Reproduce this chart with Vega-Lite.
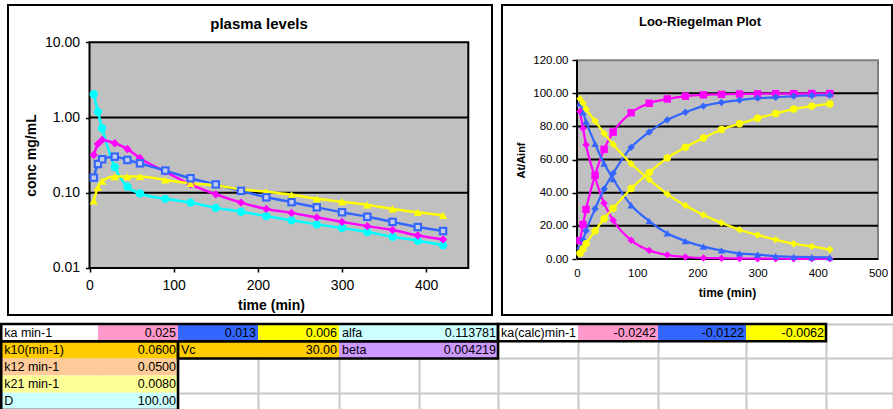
{
  "$schema": "https://vega.github.io/schema/vega-lite/v6.json",
  "padding": {"left": 0, "top": 4, "right": 0, "bottom": 0},
  "background": "white",
  "spacing": 6,
  "resolve": {"scale": {"color": "independent", "shape": "independent"}},
  "config": {
    "font": "Liberation Sans",
    "view": {"stroke": null},
    "axis": {"labelColor": "black", "titleColor": "black", "tickColor": "black", "labelFont": "Liberation Sans", "titleFont": "Liberation Sans"},
    "title": {"color": "black", "font": "Liberation Sans"}
  },
  "datasets": {
    "left": [
      {"t": 5, "IV": 2.04, "A": 0.318, "B": 0.159, "C": 0.078},
      {"t": 10, "IV": 1.19, "A": 0.446, "B": 0.241, "C": 0.118},
      {"t": 15, "IV": 0.72, "A": 0.504, "B": 0.279, "C": 0.143},
      {"t": 30, "IV": 0.22, "A": 0.455, "B": 0.302, "C": 0.164},
      {"t": 45, "IV": 0.12, "A": 0.382, "B": 0.273, "C": 0.164},
      {"t": 60, "IV": 0.098, "A": 0.288, "B": 0.246, "C": 0.164},
      {"t": 90, "IV": 0.083, "A": 0.191, "B": 0.197, "C": 0.148},
      {"t": 120, "IV": 0.074, "A": 0.129, "B": 0.156, "C": 0.133},
      {"t": 150, "IV": 0.063, "A": 0.095, "B": 0.129, "C": 0.126},
      {"t": 180, "IV": 0.056, "A": 0.074, "B": 0.106, "C": 0.111},
      {"t": 210, "IV": 0.049, "A": 0.061, "B": 0.087, "C": 0.103},
      {"t": 240, "IV": 0.043, "A": 0.054, "B": 0.075, "C": 0.094},
      {"t": 270, "IV": 0.038, "A": 0.047, "B": 0.064, "C": 0.083},
      {"t": 300, "IV": 0.034, "A": 0.041, "B": 0.055, "C": 0.076},
      {"t": 330, "IV": 0.030, "A": 0.036, "B": 0.048, "C": 0.069},
      {"t": 360, "IV": 0.026, "A": 0.032, "B": 0.041, "C": 0.061},
      {"t": 390, "IV": 0.023, "A": 0.027, "B": 0.035, "C": 0.055},
      {"t": 420, "IV": 0.020, "A": 0.024, "B": 0.031, "C": 0.050}
    ],
    "right": [
      {"t": 5, "pr": 11.1, "pf": 89.0, "br": 6.5, "bf": 94.0, "yr": 3.5, "yf": 96.8},
      {"t": 10, "pr": 20.8, "pf": 79.0, "br": 11.5, "bf": 88.5, "yr": 6.2, "yf": 94.0},
      {"t": 15, "pr": 29.9, "pf": 69.0, "br": 17.0, "bf": 83.0, "yr": 9.2, "yf": 90.6},
      {"t": 30, "pr": 50.5, "pf": 49.3, "br": 30.3, "bf": 69.6, "yr": 17.0, "yf": 83.3},
      {"t": 45, "pr": 66.2, "pf": 33.7, "br": 42.3, "bf": 57.6, "yr": 24.3, "yf": 75.8},
      {"t": 60, "pr": 76.6, "pf": 23.4, "br": 51.7, "bf": 48.3, "yr": 30.6, "yf": 69.3},
      {"t": 90, "pr": 88.3, "pf": 11.3, "br": 67.4, "bf": 32.4, "yr": 42.6, "yf": 57.5},
      {"t": 120, "pr": 94.0, "pf": 5.2, "br": 76.6, "bf": 22.9, "yr": 52.2, "yf": 48.0},
      {"t": 150, "pr": 96.6, "pf": 2.4, "br": 84.0, "bf": 15.5, "yr": 61.0, "yf": 39.2},
      {"t": 180, "pr": 98.3, "pf": 1.2, "br": 88.6, "bf": 10.8, "yr": 67.5, "yf": 32.3},
      {"t": 210, "pr": 99.1, "pf": 0.6, "br": 92.3, "bf": 7.5, "yr": 73.0, "yf": 26.6},
      {"t": 240, "pr": 99.4, "pf": 0.5, "br": 94.5, "bf": 5.2, "yr": 78.2, "yf": 21.8},
      {"t": 270, "pr": 99.6, "pf": 0.3, "br": 95.9, "bf": 3.4, "yr": 81.6, "yf": 17.7},
      {"t": 300, "pr": 99.7, "pf": 0.2, "br": 97.1, "bf": 2.7, "yr": 85.0, "yf": 14.5},
      {"t": 330, "pr": 99.8, "pf": 0.2, "br": 97.6, "bf": 1.7, "yr": 87.8, "yf": 11.7},
      {"t": 360, "pr": 99.8, "pf": 0.1, "br": 98.3, "bf": 1.3, "yr": 90.5, "yf": 9.2},
      {"t": 390, "pr": 99.9, "pf": 0.1, "br": 98.7, "bf": 1.1, "yr": 92.3, "yf": 7.6},
      {"t": 420, "pr": 99.9, "pf": 0.1, "br": 98.9, "bf": 1.0, "yr": 93.6, "yf": 5.7}
    ],
    "cells": [
      {"r": 0, "r2": 1, "c": 0, "c2": 1, "t": "ka min-1", "k": "l", "f": "white"},
      {"r": 0, "r2": 1, "c": 1, "c2": 2, "t": "0.025", "k": "n", "f": "pink"},
      {"r": 0, "r2": 1, "c": 2, "c2": 3, "t": "0.013", "k": "n", "f": "blue"},
      {"r": 0, "r2": 1, "c": 3, "c2": 4, "t": "0.006", "k": "n", "f": "yellow"},
      {"r": 0, "r2": 1, "c": 4, "c2": 5, "t": "alfa", "k": "l", "f": "lcyan"},
      {"r": 0, "r2": 1, "c": 5, "c2": 6, "t": "0.113781", "k": "n", "f": "lcyan"},
      {"r": 0, "r2": 1, "c": 6, "c2": 7, "t": "ka(calc)min-1", "k": "l", "f": "white"},
      {"r": 0, "r2": 1, "c": 7, "c2": 8, "t": "-0.0242", "k": "n", "f": "pink"},
      {"r": 0, "r2": 1, "c": 8, "c2": 9, "t": "-0.0122", "k": "n", "f": "blue"},
      {"r": 0, "r2": 1, "c": 9, "c2": 10, "t": "-0.0062", "k": "n", "f": "yellow"},
      {"r": 1, "r2": 2, "c": 0, "c2": 1, "t": "k10(min-1)", "k": "l", "f": "orange"},
      {"r": 1, "r2": 2, "c": 1, "c2": 2, "t": "0.0600", "k": "n", "f": "orange"},
      {"r": 1, "r2": 2, "c": 2, "c2": 3, "t": "Vc", "k": "l", "f": "orange"},
      {"r": 1, "r2": 2, "c": 3, "c2": 4, "t": "30.00", "k": "n", "f": "orange"},
      {"r": 1, "r2": 2, "c": 4, "c2": 5, "t": "beta", "k": "l", "f": "purple"},
      {"r": 1, "r2": 2, "c": 5, "c2": 6, "t": "0.004219", "k": "n", "f": "purple"},
      {"r": 2, "r2": 3, "c": 0, "c2": 1, "t": "k12 min-1", "k": "l", "f": "peach"},
      {"r": 2, "r2": 3, "c": 1, "c2": 2, "t": "0.0500", "k": "n", "f": "peach"},
      {"r": 3, "r2": 4, "c": 0, "c2": 1, "t": "k21 min-1", "k": "l", "f": "lyellow"},
      {"r": 3, "r2": 4, "c": 1, "c2": 2, "t": "0.0080", "k": "n", "f": "lyellow"},
      {"r": 4, "r2": 5, "c": 0, "c2": 1, "t": "D", "k": "l", "f": "lcyan"},
      {"r": 4, "r2": 5, "c": 1, "c2": 2, "t": "100.00", "k": "n", "f": "lcyan"}
    ],
    "boxes": [
      {"c": 0, "c2": 6, "r": 0, "r2": 1},
      {"c": 6, "c2": 10, "r": 0, "r2": 1},
      {"c": 2, "c2": 6, "r": 1, "r2": 2},
      {"c": 0, "c2": 2, "r": 1, "r2": 5}
    ]
  },
  "vconcat": [
    {
      "hconcat": [
        {
          "width": 484,
          "height": 310,
          "view": {"stroke": "black", "strokeWidth": 2, "fill": "white"},
          "title": {"text": "plasma levels", "fontSize": 15, "fontWeight": "bold", "anchor": "middle", "frame": "group", "offset": -27, "dx": 9},
          "layer": [
            {
              "data": {"values": [{}]},
              "mark": {"type": "rect", "fill": "#C0C0C0", "stroke": "black", "strokeWidth": 2},
              "encoding": {
                "x": {"datum": 0, "type": "quantitative", "scale": {"domain": [-96.82, 478.15], "nice": false, "zero": false},
                  "axis": {"orient": "bottom", "offset": -47, "values": [0, 100, 200, 300, 400], "domain": false, "grid": false, "ticks": true, "tickSize": 4, "tickWidth": 1.5, "labelFontSize": 14, "labelPadding": 6, "labelFlush": false, "labelOverlap": false, "title": "time (min)", "titleFontSize": 14, "titleFontWeight": "bold", "titlePadding": 6, "titleX": 263}},
                "x2": {"datum": 450},
                "y": {"datum": 0.01, "type": "quantitative", "scale": {"type": "log", "domain": [0.002372, 31.32], "nice": false},
                  "axis": {"orient": "left", "offset": -81.5, "values": [0.01, 0.1, 1, 10], "format": ".2f", "domain": false, "grid": false, "tickSize": 4, "tickWidth": 1.5, "labelFontSize": 14, "labelPadding": 6, "labelFlush": false, "labelOverlap": false, "title": "conc mg/mL", "titleFontSize": 14, "titleFontWeight": "bold", "titlePadding": 6, "titleY": 150}},
                "y2": {"datum": 10}
              }
            },
            {
              "data": {"values": [{"g": 1}, {"g": 0.1}]},
              "mark": {"type": "rule", "color": "black", "strokeWidth": 2},
              "encoding": {
                "x": {"datum": 0, "type": "quantitative", "scale": {"domain": [-96.82, 478.15], "nice": false, "zero": false},
                  "axis": {"orient": "bottom", "offset": -47, "values": [0, 100, 200, 300, 400], "domain": false, "grid": false, "ticks": true, "tickSize": 4, "tickWidth": 1.5, "labelFontSize": 14, "labelPadding": 6, "labelFlush": false, "labelOverlap": false, "title": "time (min)", "titleFontSize": 14, "titleFontWeight": "bold", "titlePadding": 6, "titleX": 263}},
                "x2": {"datum": 450},
                "y": {"field": "g", "type": "quantitative", "scale": {"type": "log", "domain": [0.002372, 31.32], "nice": false},
                  "axis": {"orient": "left", "offset": -81.5, "values": [0.01, 0.1, 1, 10], "format": ".2f", "domain": false, "grid": false, "tickSize": 4, "tickWidth": 1.5, "labelFontSize": 14, "labelPadding": 6, "labelFlush": false, "labelOverlap": false, "title": "conc mg/mL", "titleFontSize": 14, "titleFontWeight": "bold", "titlePadding": 6, "titleY": 150}}
              }
            },
            {
              "data": {"name": "left"},
              "transform": [{"fold": ["IV", "A", "B", "C"], "as": ["s", "v"]}],
              "mark": {"type": "line", "strokeWidth": 2.5, "interpolate": "monotone"},
              "encoding": {
                "x": {"field": "t", "type": "quantitative", "scale": {"domain": [-96.82, 478.15], "nice": false, "zero": false},
                  "axis": {"orient": "bottom", "offset": -47, "values": [0, 100, 200, 300, 400], "domain": false, "grid": false, "ticks": true, "tickSize": 4, "tickWidth": 1.5, "labelFontSize": 14, "labelPadding": 6, "labelFlush": false, "labelOverlap": false, "title": "time (min)", "titleFontSize": 14, "titleFontWeight": "bold", "titlePadding": 6, "titleX": 263}},
                "y": {"field": "v", "type": "quantitative", "scale": {"type": "log", "domain": [0.002372, 31.32], "nice": false},
                  "axis": {"orient": "left", "offset": -81.5, "values": [0.01, 0.1, 1, 10], "format": ".2f", "domain": false, "grid": false, "tickSize": 4, "tickWidth": 1.5, "labelFontSize": 14, "labelPadding": 6, "labelFlush": false, "labelOverlap": false, "title": "conc mg/mL", "titleFontSize": 14, "titleFontWeight": "bold", "titlePadding": 6, "titleY": 150}},
                "color": {"field": "s", "type": "nominal", "scale": {"domain": ["IV", "A", "B", "C"], "range": ["#00FFFF", "#FF00FF", "#3366FF", "#FFFF00"]}, "legend": null}
              }
            },
            {
              "data": {"name": "left"},
              "transform": [{"fold": ["IV", "A", "B", "C"], "as": ["s", "v"]}, {"filter": "datum.s != 'B'"}],
              "mark": {"type": "point", "filled": true, "opacity": 1, "size": 70},
              "encoding": {
                "x": {"field": "t", "type": "quantitative", "scale": {"domain": [-96.82, 478.15], "nice": false, "zero": false},
                  "axis": {"orient": "bottom", "offset": -47, "values": [0, 100, 200, 300, 400], "domain": false, "grid": false, "ticks": true, "tickSize": 4, "tickWidth": 1.5, "labelFontSize": 14, "labelPadding": 6, "labelFlush": false, "labelOverlap": false, "title": "time (min)", "titleFontSize": 14, "titleFontWeight": "bold", "titlePadding": 6, "titleX": 263}},
                "y": {"field": "v", "type": "quantitative", "scale": {"type": "log", "domain": [0.002372, 31.32], "nice": false},
                  "axis": {"orient": "left", "offset": -81.5, "values": [0.01, 0.1, 1, 10], "format": ".2f", "domain": false, "grid": false, "tickSize": 4, "tickWidth": 1.5, "labelFontSize": 14, "labelPadding": 6, "labelFlush": false, "labelOverlap": false, "title": "conc mg/mL", "titleFontSize": 14, "titleFontWeight": "bold", "titlePadding": 6, "titleY": 150}},
                "color": {"field": "s", "type": "nominal", "scale": {"domain": ["IV", "A", "B", "C"], "range": ["#00FFFF", "#FF00FF", "#3366FF", "#FFFF00"]}, "legend": null},
                "shape": {"field": "s", "type": "nominal", "scale": {"domain": ["IV", "A", "C"], "range": ["circle", "diamond", "triangle-up"]}, "legend": null}
              }
            },
            {
              "data": {"name": "left"},
              "transform": [{"fold": ["B"], "as": ["s", "v"]}],
              "mark": {"type": "point", "shape": "square", "filled": true, "opacity": 1, "size": 72, "color": "#3366FF"},
              "encoding": {
                "x": {"field": "t", "type": "quantitative", "scale": {"domain": [-96.82, 478.15], "nice": false, "zero": false},
                  "axis": {"orient": "bottom", "offset": -47, "values": [0, 100, 200, 300, 400], "domain": false, "grid": false, "ticks": true, "tickSize": 4, "tickWidth": 1.5, "labelFontSize": 14, "labelPadding": 6, "labelFlush": false, "labelOverlap": false, "title": "time (min)", "titleFontSize": 14, "titleFontWeight": "bold", "titlePadding": 6, "titleX": 263}},
                "y": {"field": "v", "type": "quantitative", "scale": {"type": "log", "domain": [0.002372, 31.32], "nice": false},
                  "axis": {"orient": "left", "offset": -81.5, "values": [0.01, 0.1, 1, 10], "format": ".2f", "domain": false, "grid": false, "tickSize": 4, "tickWidth": 1.5, "labelFontSize": 14, "labelPadding": 6, "labelFlush": false, "labelOverlap": false, "title": "conc mg/mL", "titleFontSize": 14, "titleFontWeight": "bold", "titlePadding": 6, "titleY": 150}}
              }
            },
            {
              "data": {"name": "left"},
              "transform": [{"fold": ["B"], "as": ["s", "v"]}],
              "mark": {"type": "point", "shape": "square", "filled": true, "opacity": 1, "size": 18, "color": "#C4CCEE"},
              "encoding": {
                "x": {"field": "t", "type": "quantitative", "scale": {"domain": [-96.82, 478.15], "nice": false, "zero": false},
                  "axis": {"orient": "bottom", "offset": -47, "values": [0, 100, 200, 300, 400], "domain": false, "grid": false, "ticks": true, "tickSize": 4, "tickWidth": 1.5, "labelFontSize": 14, "labelPadding": 6, "labelFlush": false, "labelOverlap": false, "title": "time (min)", "titleFontSize": 14, "titleFontWeight": "bold", "titlePadding": 6, "titleX": 263}},
                "y": {"field": "v", "type": "quantitative", "scale": {"type": "log", "domain": [0.002372, 31.32], "nice": false},
                  "axis": {"orient": "left", "offset": -81.5, "values": [0.01, 0.1, 1, 10], "format": ".2f", "domain": false, "grid": false, "tickSize": 4, "tickWidth": 1.5, "labelFontSize": 14, "labelPadding": 6, "labelFlush": false, "labelOverlap": false, "title": "conc mg/mL", "titleFontSize": 14, "titleFontWeight": "bold", "titlePadding": 6, "titleY": 150}}
              }
            }
          ]
        },
        {
          "width": 390,
          "height": 310,
          "view": {"stroke": "black", "strokeWidth": 2, "fill": "white"},
          "title": {"text": "Loo-Riegelman Plot", "fontSize": 13, "fontWeight": "bold", "anchor": "middle", "frame": "group", "offset": -24, "dx": 3},
          "layer": [
            {
              "data": {"values": [{}]},
              "mark": {"type": "rect", "fill": "#C0C0C0", "stroke": "#808080", "strokeWidth": 2},
              "encoding": {
                "x": {"datum": 0, "type": "quantitative", "scale": {"domain": [-124.58, 523.26], "nice": false, "zero": false},
                  "axis": {"orient": "bottom", "offset": -56, "values": [0, 100, 200, 300, 400, 500], "domain": false, "grid": false, "ticks": false, "tickSize": 0, "labelFontSize": 11.5, "labelPadding": 8, "labelFlush": false, "labelOverlap": false, "title": "time (min)", "titleFontSize": 12, "titleFontWeight": "bold", "titlePadding": 9, "titleX": 225}},
                "x2": {"datum": 500},
                "y": {"datum": 0, "type": "quantitative", "scale": {"domain": [-33.8, 153.32], "nice": false, "zero": false},
                  "axis": {"orient": "left", "offset": -75, "values": [0, 20, 40, 60, 80, 100, 120], "format": ".2f", "domain": false, "grid": false, "tickSize": 5, "tickWidth": 1.5, "labelFontSize": 11.5, "labelPadding": 4, "labelFlush": false, "labelOverlap": false, "title": "At/Ainf", "titleFontSize": 11, "titleFontWeight": "bold", "titlePadding": 6}},
                "y2": {"datum": 120}
              }
            },
            {
              "data": {"values": [{"g": 20}, {"g": 40}, {"g": 60}, {"g": 80}, {"g": 100}, {"g": 0}]},
              "mark": {"type": "rule", "color": "black", "strokeWidth": 2},
              "encoding": {
                "x": {"datum": 0, "type": "quantitative", "scale": {"domain": [-124.58, 523.26], "nice": false, "zero": false},
                  "axis": {"orient": "bottom", "offset": -56, "values": [0, 100, 200, 300, 400, 500], "domain": false, "grid": false, "ticks": false, "tickSize": 0, "labelFontSize": 11.5, "labelPadding": 8, "labelFlush": false, "labelOverlap": false, "title": "time (min)", "titleFontSize": 12, "titleFontWeight": "bold", "titlePadding": 9, "titleX": 225}},
                "x2": {"datum": 500},
                "y": {"field": "g", "type": "quantitative", "scale": {"domain": [-33.8, 153.32], "nice": false, "zero": false},
                  "axis": {"orient": "left", "offset": -75, "values": [0, 20, 40, 60, 80, 100, 120], "format": ".2f", "domain": false, "grid": false, "tickSize": 5, "tickWidth": 1.5, "labelFontSize": 11.5, "labelPadding": 4, "labelFlush": false, "labelOverlap": false, "title": "At/Ainf", "titleFontSize": 11, "titleFontWeight": "bold", "titlePadding": 6}}
              }
            },
            {
              "data": {"values": [{"g": 0}]},
              "mark": {"type": "rule", "color": "black", "strokeWidth": 2},
              "encoding": {
                "x": {"field": "g", "type": "quantitative", "scale": {"domain": [-124.58, 523.26], "nice": false, "zero": false},
                  "axis": {"orient": "bottom", "offset": -56, "values": [0, 100, 200, 300, 400, 500], "domain": false, "grid": false, "ticks": false, "tickSize": 0, "labelFontSize": 11.5, "labelPadding": 8, "labelFlush": false, "labelOverlap": false, "title": "time (min)", "titleFontSize": 12, "titleFontWeight": "bold", "titlePadding": 9, "titleX": 225}},
                "y": {"datum": 0, "type": "quantitative", "scale": {"domain": [-33.8, 153.32], "nice": false, "zero": false},
                  "axis": {"orient": "left", "offset": -75, "values": [0, 20, 40, 60, 80, 100, 120], "format": ".2f", "domain": false, "grid": false, "tickSize": 5, "tickWidth": 1.5, "labelFontSize": 11.5, "labelPadding": 4, "labelFlush": false, "labelOverlap": false, "title": "At/Ainf", "titleFontSize": 11, "titleFontWeight": "bold", "titlePadding": 6}},
                "y2": {"datum": 120}
              }
            },
            {
              "data": {"name": "right"},
              "transform": [{"fold": ["pr", "pf", "br", "bf", "yr", "yf"], "as": ["s", "v"]}],
              "mark": {"type": "line", "strokeWidth": 2.2, "interpolate": "monotone"},
              "encoding": {
                "x": {"field": "t", "type": "quantitative", "scale": {"domain": [-124.58, 523.26], "nice": false, "zero": false},
                  "axis": {"orient": "bottom", "offset": -56, "values": [0, 100, 200, 300, 400, 500], "domain": false, "grid": false, "ticks": false, "tickSize": 0, "labelFontSize": 11.5, "labelPadding": 8, "labelFlush": false, "labelOverlap": false, "title": "time (min)", "titleFontSize": 12, "titleFontWeight": "bold", "titlePadding": 9, "titleX": 225}},
                "y": {"field": "v", "type": "quantitative", "scale": {"domain": [-33.8, 153.32], "nice": false, "zero": false},
                  "axis": {"orient": "left", "offset": -75, "values": [0, 20, 40, 60, 80, 100, 120], "format": ".2f", "domain": false, "grid": false, "tickSize": 5, "tickWidth": 1.5, "labelFontSize": 11.5, "labelPadding": 4, "labelFlush": false, "labelOverlap": false, "title": "At/Ainf", "titleFontSize": 11, "titleFontWeight": "bold", "titlePadding": 6}},
                "color": {"field": "s", "type": "nominal", "scale": {"domain": ["pr", "pf", "br", "bf", "yr", "yf"], "range": ["#FF00FF", "#FF00FF", "#3366FF", "#3366FF", "#FFFF00", "#FFFF00"]}, "legend": null}
              }
            },
            {
              "data": {"name": "right"},
              "transform": [{"fold": ["pr", "pf", "br", "bf", "yr", "yf"], "as": ["s", "v"]}],
              "mark": {"type": "point", "filled": true, "opacity": 1, "size": 55},
              "encoding": {
                "x": {"field": "t", "type": "quantitative", "scale": {"domain": [-124.58, 523.26], "nice": false, "zero": false},
                  "axis": {"orient": "bottom", "offset": -56, "values": [0, 100, 200, 300, 400, 500], "domain": false, "grid": false, "ticks": false, "tickSize": 0, "labelFontSize": 11.5, "labelPadding": 8, "labelFlush": false, "labelOverlap": false, "title": "time (min)", "titleFontSize": 12, "titleFontWeight": "bold", "titlePadding": 9, "titleX": 225}},
                "y": {"field": "v", "type": "quantitative", "scale": {"domain": [-33.8, 153.32], "nice": false, "zero": false},
                  "axis": {"orient": "left", "offset": -75, "values": [0, 20, 40, 60, 80, 100, 120], "format": ".2f", "domain": false, "grid": false, "tickSize": 5, "tickWidth": 1.5, "labelFontSize": 11.5, "labelPadding": 4, "labelFlush": false, "labelOverlap": false, "title": "At/Ainf", "titleFontSize": 11, "titleFontWeight": "bold", "titlePadding": 6}},
                "color": {"field": "s", "type": "nominal", "scale": {"domain": ["pr", "pf", "br", "bf", "yr", "yf"], "range": ["#FF00FF", "#FF00FF", "#3366FF", "#3366FF", "#FFFF00", "#FFFF00"]}, "legend": null},
                "shape": {"field": "s", "type": "nominal", "scale": {"domain": ["pr", "pf", "br", "bf", "yr", "yf"], "range": ["square", "diamond", "diamond", "triangle-up", "circle", "diamond"]}, "legend": null}
              }
            }
          ]
        }
      ],
      "spacing": 10,
      "bounds": "flush",
      "resolve": {"scale": {"color": "independent", "shape": "independent"}}
    },
    {
      "width": 885,
      "height": 86,
      "view": {"stroke": null},
      "layer": [
        {
          "data": {"name": "cells"},
          "mark": {"type": "rect", "strokeWidth": 0},
          "encoding": {
            "x": {"field": "c", "type": "quantitative", "scale": {"domain": [0, 1, 2, 3, 4, 5, 6, 7, 8, 9, 10, 11], "range": [-6.75, 90, 170, 250, 331, 411, 490, 570, 650, 738, 818, 885], "nice": false, "zero": false},
              "axis": {"grid": true, "values": [0, 1, 2, 3, 4, 5, 6, 7, 8, 9, 10, 11], "gridColor": "#C8C8C8", "gridWidth": 2, "labels": false, "ticks": false, "domain": false, "title": null, "zindex": 0}},
            "x2": {"field": "c2"},
            "y": {"field": "r", "type": "quantitative", "scale": {"domain": [0, 5], "range": [0, 86], "nice": false, "zero": false},
              "axis": {"grid": true, "values": [0, 1, 2, 3, 4, 5], "gridColor": "#C8C8C8", "gridWidth": 2, "labels": false, "ticks": false, "domain": false, "title": null, "zindex": 0}},
            "y2": {"field": "r2"},
            "color": {"field": "f", "type": "nominal", "scale": {"domain": ["white", "pink", "blue", "yellow", "lcyan", "orange", "purple", "peach", "lyellow"], "range": ["#FFFFFF", "#FF99CC", "#3366FF", "#FFFF00", "#CCFFFF", "#FFCC00", "#CC99FF", "#FFCC99", "#FFFF99"]}, "legend": null}
          }
        },
        {
          "data": {"name": "boxes"},
          "mark": {"type": "rect", "filled": false, "stroke": "black", "strokeWidth": 2.5},
          "encoding": {
            "x": {"field": "c", "type": "quantitative", "scale": {"domain": [0, 1, 2, 3, 4, 5, 6, 7, 8, 9, 10, 11], "range": [-6.75, 90, 170, 250, 331, 411, 490, 570, 650, 738, 818, 885], "nice": false, "zero": false}},
            "x2": {"field": "c2"},
            "y": {"field": "r", "type": "quantitative", "scale": {"domain": [0, 5], "range": [0, 86], "nice": false, "zero": false}},
            "y2": {"field": "r2"}
          }
        },
        {
          "data": {"name": "cells"},
          "transform": [{"filter": "datum.k == 'l'"}],
          "mark": {"type": "text", "align": "left", "baseline": "middle", "dx": 3, "dy": 8.6, "fontSize": 12.5, "color": "black"},
          "encoding": {
            "x": {"field": "c", "type": "quantitative", "scale": {"domain": [0, 1, 2, 3, 4, 5, 6, 7, 8, 9, 10, 11], "range": [-6.75, 90, 170, 250, 331, 411, 490, 570, 650, 738, 818, 885], "nice": false, "zero": false}},
            "y": {"field": "r", "type": "quantitative", "scale": {"domain": [0, 5], "range": [0, 86], "nice": false, "zero": false}},
            "text": {"field": "t"}
          }
        },
        {
          "data": {"name": "cells"},
          "transform": [{"filter": "datum.k == 'n'"}],
          "mark": {"type": "text", "align": "right", "baseline": "middle", "dx": -2, "dy": 8.6, "fontSize": 12.5, "color": "black"},
          "encoding": {
            "x": {"field": "c2", "type": "quantitative", "scale": {"domain": [0, 1, 2, 3, 4, 5, 6, 7, 8, 9, 10, 11], "range": [-6.75, 90, 170, 250, 331, 411, 490, 570, 650, 738, 818, 885], "nice": false, "zero": false}},
            "y": {"field": "r", "type": "quantitative", "scale": {"domain": [0, 5], "range": [0, 86], "nice": false, "zero": false}},
            "text": {"field": "t"}
          }
        }
      ]
    }
  ]
}
